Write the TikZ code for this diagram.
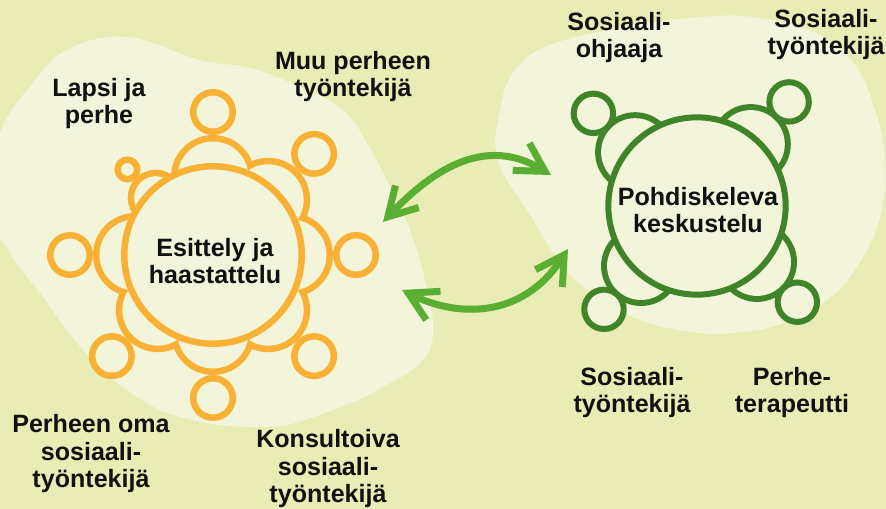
\documentclass[tikz,border=0pt]{standalone}
\usepackage{fontspec}
\setmainfont{Liberation Sans}
\usetikzlibrary{arrows.meta}
\definecolor{bgc}{HTML}{E9ECB5}
\definecolor{blobc}{HTML}{F2F5DA}
\definecolor{orc}{HTML}{F8B134}
\definecolor{grc}{HTML}{3F8429}
\definecolor{arrowgreen}{HTML}{5AAF33}
\definecolor{inkc}{HTML}{111111}
\begin{document}
\begin{tikzpicture}[x=0.75pt,y=-0.75pt,
  mybarb/.tip={Straight Barb[length=21pt,width=24pt]},
  arr/.style={draw=arrowgreen,line width=5.25pt,mybarb-mybarb},
  lbl/.style={font=\fontsize{18.8}{20.8}\selectfont\bfseries,align=center,anchor=base,inner sep=0pt,text=inkc},
  obodyline/.style={draw=orc,line width=9.75pt},
  gbodyline/.style={draw=grc,line width=9pt},
  ohead/.style={draw=orc,fill=blobc,line width=4.875pt},
  ghead/.style={draw=grc,fill=blobc,line width=4.5pt},
  otable/.style={circle,draw=orc,fill=blobc,line width=4.875pt,minimum size=133.1pt,inner sep=0pt},
  gtable/.style={circle,draw=grc,fill=blobc,line width=4.5pt,minimum size=133pt,inner sep=0pt}]
\useasboundingbox (0,0) rectangle (886,509);
\clip (0,0) rectangle (886,509);
\fill[bgc] (0,0) rectangle (886,509);
% blobs
\fill[blobc] plot[smooth cycle,tension=0.7] coordinates {(0,132) (33,83) (67,50) (127,37) (200,60) (250,68) (300,87) (343,110) (367,143) (390,187) (410,230) (425,280) (433,327) (423,360) (383,387) (333,410) (267,427) (180,417) (123,387) (83,350) (40,293) (10,253) (-15,200)};
\fill[blobc] plot[smooth cycle,tension=0.7] coordinates {(498,160) (500,110) (515,70) (550,45) (620,28) (700,17) (760,18) (820,35) (855,65) (875,110) (885,160) (880,217) (857,267) (827,300) (783,323) (743,332) (700,333) (640,320) (590,292) (560,262) (530,215)};
% orange group
\begin{scope}[shift={(213,255)}]
  \foreach \a in {0,45,90,135,180,270,315} \draw[obodyline] (\a:78) circle[radius=35.5];
  \draw[obodyline] (225:81) circle[radius=21.5];
  \foreach \a in {0,45,90,135,180,270,315} \fill[blobc] (\a:78) circle[radius=35.5];
  \fill[blobc] (225:81) circle[radius=21.5];
  \foreach \a in {0,45,90,135,180,270,315} \draw[ohead] (\a:143) circle[radius=19.75];
  \draw[ohead] (225:121) circle[radius=9.75];
\end{scope}
\node[otable] (esittely) at (213,255) {};
% green group
\begin{scope}[shift={(697,206)}]
  \foreach \a in {43,133,221,311} \draw[gbodyline] (\a:82) circle[radius=34];
  \foreach \a in {43,133,221,311} \fill[blobc] (\a:82) circle[radius=34];
  \draw[ghead] (221.8:139) circle[radius=19.7];
  \draw[ghead] (311.5:139) circle[radius=19.7];
  \draw[ghead] (132:139) circle[radius=19.7];
  \draw[ghead] (43.8:139) circle[radius=19.7];
\end{scope}
\node[gtable] (pohdiskeleva) at (697,206) {};
% arrows
\coordinate (a1s) at (383,222);
\coordinate (a1e) at (551,175);
\coordinate (a2s) at (402,290);
\coordinate (a2e) at (568,249);
\draw[arr] (a1s) .. controls (435,167) and (487,136) .. (a1e);
\draw[arr] (a2s) .. controls (456,317) and (522,320) .. (a2e);
% labels (anchor at last baseline)
\node[lbl] (t1) at (215,284) {Esittely ja\\haastattelu};
\node[lbl] (t2) at (698,233) {Pohdiskeleva\\keskustelu};
\node[lbl] (l1) at (99,124) {Lapsi ja\\perhe};
\node[lbl] (l2) at (353,97) {Muu perheen\\työntekijä};
\node[lbl] (l3) at (91,488) {Perheen oma\\sosiaali-\\työntekijä};
\node[lbl] (l4) at (328,503) {Konsultoiva\\sosiaali-\\työntekijä};
\node[lbl] (r1) at (619,58) {Sosiaali-\\ohjaaja};
\node[lbl] (r2) at (826,55) {Sosiaali-\\työntekijä};
\node[lbl] (r3) at (632,413) {Sosiaali-\\työntekijä};
\node[lbl] (r4) at (792,413) {Perhe-\\terapeutti};
\end{tikzpicture}
\end{document}
